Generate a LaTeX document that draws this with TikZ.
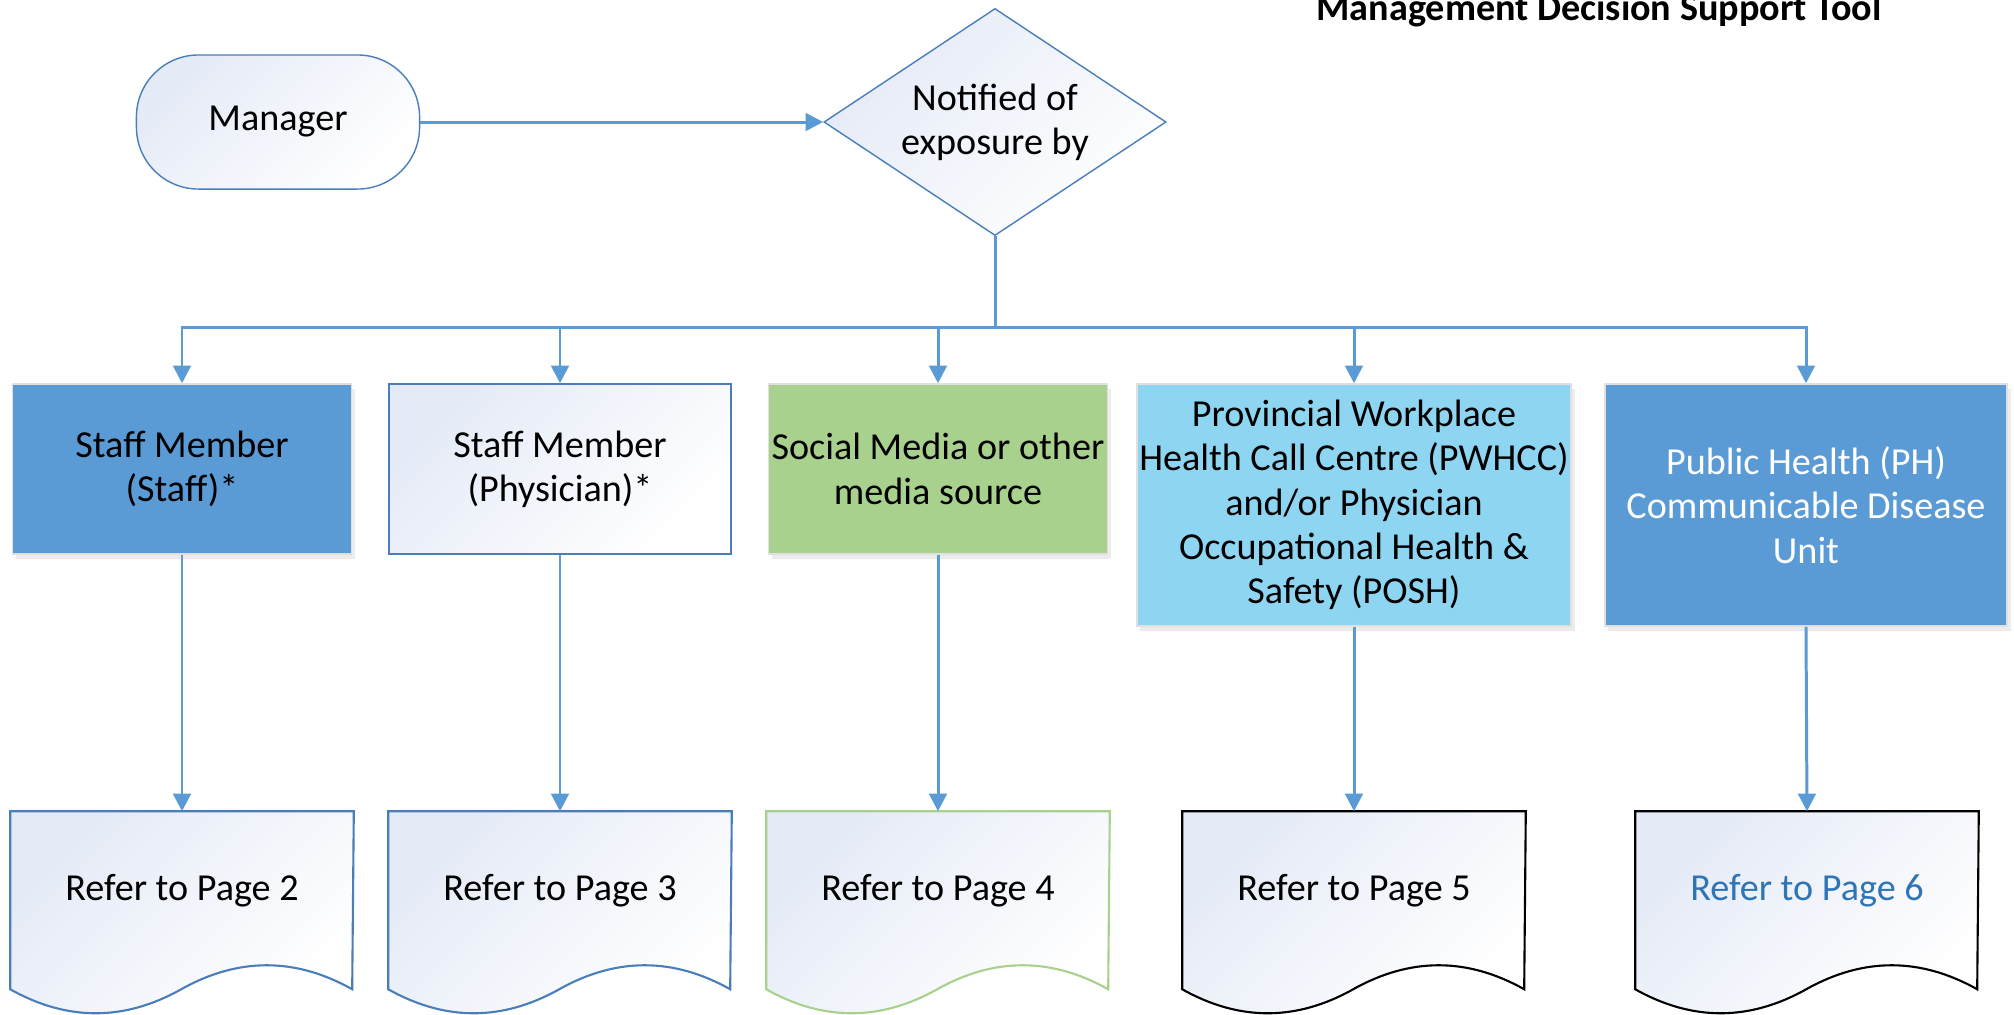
\documentclass[tikz,border=0pt]{standalone}
\usepackage{fontspec}
\setmainfont{Carlito}
\usetikzlibrary{arrows.meta,shapes.geometric,shadows,backgrounds,positioning}

\definecolor{link}{RGB}{91,155,213}
\definecolor{edge}{RGB}{74,126,187}
\definecolor{fillblue}{RGB}{91,155,213}
\definecolor{fillgreen}{RGB}{169,209,142}
\definecolor{fillsky}{RGB}{142,213,242}
\definecolor{paper}{RGB}{228,234,246}
\definecolor{pagetext}{RGB}{46,117,182}

\begin{document}
\begin{tikzpicture}[x = 0.01cm, y = -0.01cm,
    every node/.style = {font = \fontsize{10.85}{12.6}\selectfont, align = center},
    pale/.style = {top color = paper, bottom color = white, shading angle = 45},
    flow/.style = {draw = link, line width = 0.85pt, -{Triangle[length = 5pt, width = 5pt]}},
    flowbox/.style = {rectangle, minimum height = 1.70cm, inner sep = 0pt},
    filled box/.style = {flowbox, draw = black!12, line width = 0.4pt,
        drop shadow = {opacity = 0.15, shadow xshift = 1pt, shadow yshift = -1.5pt}},
    refpage/.style = {rectangle, minimum width = 3.42cm, minimum height = 1.58cm, inner sep = 0pt}]

    \useasboundingbox (0,0) rectangle (2014,1014);

    \node[font = \fontsize{10.85}{12.6}\selectfont\bfseries, anchor = base] (title) at (1599,20) {Management Decision Support Tool};

    % top row
    \node[draw = edge, pale, rounded corners = 0.62cm, minimum width = 2.83cm, minimum height = 1.34cm] (manager) at (278,122) {Manager};
    \node[diamond, draw = edge, pale, aspect = 1.5, minimum width = 3.42cm, minimum height = 2.27cm, inner sep = 0pt] (notified) at (995,122) {Notified of\\exposure by};

    % sources
    \node[filled box, fill = fillblue, minimum width = 3.39cm] (staff) at (182,469) {Staff Member\\(Staff)*};
    \node[flowbox, draw = edge, pale, minimum width = 3.42cm] (physician) at (560,469) {Staff Member\\(Physician)*};
    \node[filled box, fill = fillgreen, minimum width = 3.39cm] (media) at (938,469) {Social Media or other\\media source};
    \node[filled box, fill = fillsky, minimum width = 4.34cm, minimum height = 2.42cm] (pwhcc) at (1354,505)
        {Provincial Workplace\\Health Call Centre (PWHCC)\\and/or Physician\\Occupational Health \&\\Safety (POSH)};
    \node[filled box, fill = fillblue, text = white, minimum width = 4.02cm, minimum height = 2.42cm] (publichealth) at (1806,505)
        {Public Health (PH)\\Communicable Disease\\Unit};

    % pages
    \node[refpage] (page2) at (182,891) {Refer to Page 2};
    \node[refpage] (page3) at (560,891) {Refer to Page 3};
    \node[refpage] (page4) at (938,891) {Refer to Page 4};
    \node[refpage] (page5) at (1354,891) {Refer to Page 5};
    \node[refpage, text = pagetext] (page6) at (1807,891) {Refer to Page 6};

    \begin{scope}[on background layer]
        \foreach \p/\c in {page2/edge, page3/edge, page4/fillgreen, page5/black, page6/black}
            \draw[pale, draw = \c, line width = 0.6pt] (\p.north west) -- ++(0,178)
                .. controls +(57,32) and +(-57,32) .. ++(171,0)
                .. controls +(57,-32) and +(-57,-32) .. ++(171,0) -- (\p.north east) -- cycle;
    \end{scope}

    % connectors
    \coordinate (bus) at (995,327);
    \draw[flow] (manager.east) -- (notified.west);
    \draw[draw = link, line width = 0.85pt] (notified.south) -- (bus);
    \foreach \b in {staff, physician, media, pwhcc, publichealth}
        \draw[flow] (bus) -| (\b.north);
    \foreach \b/\p in {staff/page2, physician/page3, media/page4, pwhcc/page5, publichealth/page6}
        \draw[flow] (\b.south) -- (\p.north);
\end{tikzpicture}
\end{document}
